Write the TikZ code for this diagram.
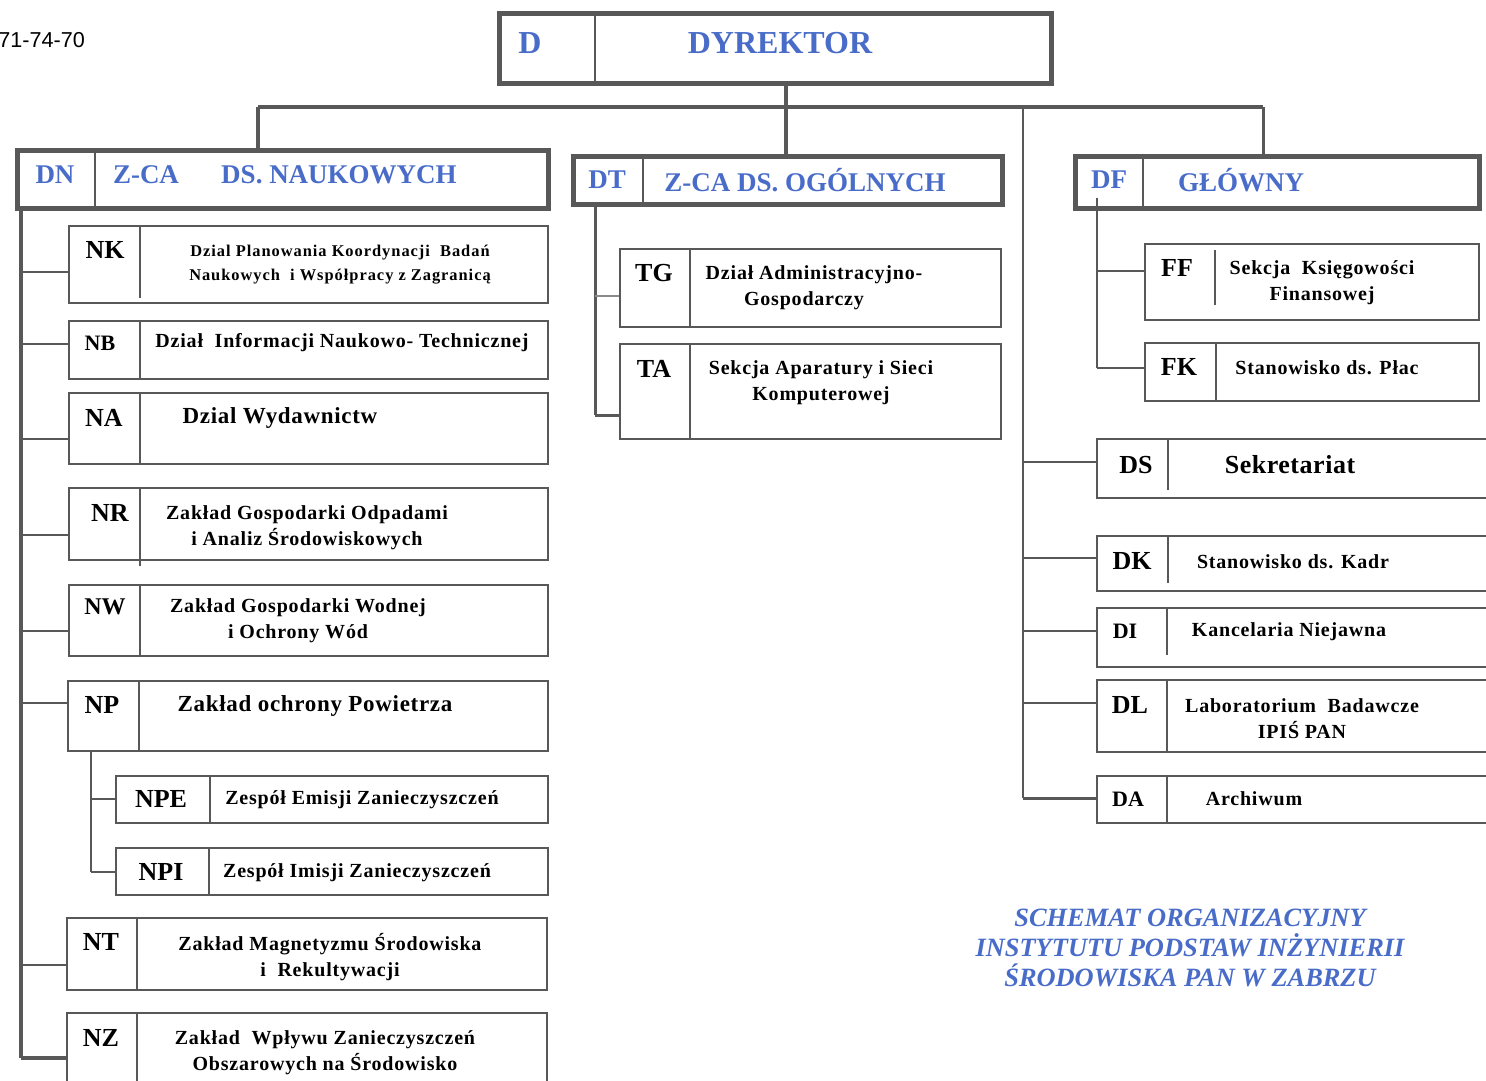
\documentclass[tikz,border=0pt]{standalone}
\usepackage{fontspec}
\setmainfont{Liberation Serif}
\setsansfont{Liberation Sans}
\definecolor{bluetxt}{RGB}{72,108,200}
\definecolor{linegray}{RGB}{88,88,88}
\newcommand{\fsz}[2]{\fontsize{#1}{#2}\selectfont}
\tikzset{
  thickbox/.style={draw=linegray, line width=2.6pt},
  thinbox/.style={draw=linegray, line width=0.9pt},
  spine/.style={draw=linegray, line width=2pt},
  midspine/.style={draw=linegray, line width=1.5pt},
  conn/.style={draw=linegray, line width=1pt},
  bus/.style={draw=linegray, line width=2.4pt},
  hlab/.style={font=\fsz{13.5}{15}\bfseries, text=bluetxt, inner sep=0pt},
  lab/.style={font=\fsz{13}{15}\bfseries, inner sep=0pt},
  slab/.style={font=\fsz{11}{13}\bfseries, inner sep=0pt},
  txt/.style={font=\fsz{10}{13}\bfseries\addfontfeature{LetterSpace=4}, align=center, inner sep=0pt},
  btxt/.style={font=\fsz{11.5}{13}\bfseries\addfontfeature{LetterSpace=3}, align=center, inner sep=0pt},
  smtxt/.style={font=\fsz{8.2}{12}\bfseries\addfontfeature{LetterSpace=6}, align=center, inner sep=0pt},
}
% #1 name, #2 x1, #3 y1, #4 x2, #5 y2, #6 style
\newcommand{\ubox}[6]{%
  \node[#6, anchor=north west, inner sep=0pt, minimum width={(#4-#2)*0.5pt}, minimum height={(#5-#3)*0.5pt}] (#1) at (#2,#3) {};%
}
\begin{document}
\begin{tikzpicture}[x=0.5pt,y=-0.5pt]
\useasboundingbox (0,0) rectangle (1486,1080);
\clip (0,0) rectangle (1486,1080);
\fill[white] (0,0) rectangle (1486,1080);

% phone number fragment
\node[font=\sffamily\fsz{10.8}{12}, anchor=west, inner sep=0pt] (tel) at (-2,40) {71-74-70};

% ---------------- top level ----------------
\ubox{D}{497}{11}{1049}{81}{thickbox}
\draw[thickbox, line width=1.2pt] (595,11) -- (595,81);
\node[hlab, font=\fsz{16}{18}\bfseries] (D-c) at (530,43) {D};
\node[hlab, font=\fsz{16}{18}\bfseries] (D-t) at (780,43) {DYREKTOR};

\ubox{DN}{15}{148}{546}{206}{thickbox}
\draw[linegray, line width=1.2pt] (95,148) -- (95,206);
\node[hlab] (DN-c) at (55,175) {DN};
\node[hlab] (DN-z) at (146,175) {Z-CA};
\node[hlab] (DN-t) at (339,175) {DS. NAUKOWYCH};

\ubox{DT}{571}{154}{1000}{202}{thickbox}
\draw[linegray, line width=1.2pt] (643,154) -- (643,202);
\node[hlab] (DT-c) at (607,180) {DT};
\node[hlab] (DT-t) at (805,180) {Z-CA DS. OGÓLNYCH};

\ubox{DF}{1073}{154}{1477}{206}{thickbox}
\draw[linegray, line width=1.2pt] (1143,154) -- (1143,206);
\node[hlab] (DF-c) at (1109,180) {DF};
\node[hlab] (DF-t) at (1241,180) {GŁÓWNY};

% bus
\coordinate (busL) at (258,107);
\coordinate (busC) at (786,107);
\coordinate (busR) at (1263,107);
\coordinate (busS) at (1023,107);
\draw[bus] (D.south -| busC) -- (busC);
\draw[bus] (busL) -- (busR);
\draw[bus] (busL) -- (busL |- DN.north);
\draw[bus] (busC) -- (busC |- DT.north);
\draw[midspine] (busR) -- (busR |- DF.north);

% ---------------- DN column ----------------
\coordinate (nspine) at (21,206);
\coordinate (nend) at (21,1058);
\draw[spine] (nspine) -- (nend);

\ubox{NK}{68}{225}{547}{302}{thinbox}
\draw[thinbox] (140,225) -- (140,298);
\node[lab] (NK-c) at (105,250) {NK};
\node[smtxt] (NK-t) at (340,265) {Dzial Planowania Koordynacji\ \ Badań\\Naukowych\ \ i Współpracy z Zagranicą};
\coordinate (jNK) at (21,272);
\draw[conn] (jNK) -- (jNK -| NK.west);

\ubox{NB}{68}{320}{547}{378}{thinbox}
\draw[thinbox] (140,320) -- (140,378);
\node[slab] (NB-c) at (100,343) {NB};
\node[txt] (NB-t) at (342,343) {Dział\ \ Informacji Naukowo- Technicznej};
\coordinate (jNB) at (21,344);
\draw[conn] (jNB) -- (jNB -| NB.west);

\ubox{NA}{68}{392}{547}{463}{thinbox}
\draw[thinbox] (140,392) -- (140,463);
\node[lab] (NA-c) at (104,418) {NA};
\node[btxt] (NA-t) at (280,418) {Dzial Wydawnictw};
\coordinate (jNA) at (21,439);
\draw[conn] (jNA) -- (jNA -| NA.west);

\ubox{NR}{68}{487}{547}{559}{thinbox}
\draw[thinbox] (140,487) -- (140,566);
\node[lab] (NR-c) at (110,513) {NR};
\node[txt] (NR-t) at (307,528) {Zakład Gospodarki Odpadami\\i Analiz Środowiskowych};
\coordinate (jNR) at (21,535);
\draw[conn] (jNR) -- (jNR -| NR.west);

\ubox{NW}{68}{584}{547}{655}{thinbox}
\draw[thinbox] (140,584) -- (140,655);
\node[slab, font=\fsz{12}{13}\bfseries] (NW-c) at (105,607) {NW};
\node[txt] (NW-t) at (298,621) {Zakład Gospodarki Wodnej\\i Ochrony Wód};
\coordinate (jNW) at (21,631);
\draw[conn] (jNW) -- (jNW -| NW.west);

\ubox{NP}{67}{680}{547}{750}{thinbox}
\draw[thinbox] (139,680) -- (139,750);
\node[lab] (NP-c) at (102,705) {NP};
\node[btxt] (NP-t) at (315,706) {Zakład ochrony Powietrza};
\coordinate (jNP) at (21,703);
\draw[conn] (jNP) -- (jNP -| NP.west);

\coordinate (pspine) at (91,750);
\coordinate (pend) at (91,872);
\draw[conn] (pspine) -- (pend);

\ubox{NPE}{115}{775}{547}{822}{thinbox}
\draw[thinbox] (210,775) -- (210,822);
\node[lab] (NPE-c) at (161,799) {NPE};
\node[txt] (NPE-t) at (362,800) {Zespół Emisji Zanieczyszczeń};
\coordinate (jNPE) at (91,799);
\draw[conn] (jNPE) -- (jNPE -| NPE.west);

\ubox{NPI}{115}{847}{547}{894}{thinbox}
\draw[thinbox] (209,847) -- (209,894);
\node[lab] (NPI-c) at (161,872) {NPI};
\node[txt] (NPI-t) at (357,873) {Zespół Imisji Zanieczyszczeń};
\draw[conn] (pend) -- (pend -| NPI.west);

\ubox{NT}{66}{917}{546}{989}{thinbox}
\draw[thinbox] (137,917) -- (137,989);
\node[lab] (NT-c) at (101,942) {NT};
\node[txt] (NT-t) at (330,957) {Zakład Magnetyzmu Środowiska\\i\ \ Rekultywacji};
\coordinate (jNT) at (21,965);
\draw[conn] (jNT) -- (jNT -| NT.west);

\ubox{NZ}{66}{1012}{546}{1100}{thinbox}
\draw[thinbox] (137,1012) -- (137,1100);
\node[lab] (NZ-c) at (101,1038) {NZ};
\node[txt] (NZ-t) at (325,1053) {Zakład\ \ Wpływu Zanieczyszczeń\\Obszarowych na Środowisko};
\draw[spine] (nend) -- (nend -| NZ.west);

% ---------------- DT column ----------------
\coordinate (tspine) at (595,202);
\coordinate (tend) at (595,415);
\draw[midspine] (tspine) -- (tend);

\ubox{TG}{619}{248}{1000}{326}{thinbox}
\draw[thinbox] (690,248) -- (690,326);
\node[lab] (TG-c) at (654,273) {TG};
\node[txt] (TG-t) at (814,288) {Dział Administracyjno-\\\hspace*{-1em}Gospodarczy};
\coordinate (jTG) at (595,296);
\draw[conn, draw=linegray!70] (jTG) -- (jTG -| TG.west);

\ubox{TA}{619}{343}{1000}{438}{thinbox}
\draw[thinbox] (690,343) -- (690,438);
\node[lab] (TA-c) at (654,369) {TA};
\node[txt] (TA-t) at (821,383) {Sekcja Aparatury i Sieci\\Komputerowej};
\draw[midspine] (tend) -- (tend -| TA.west);

% ---------------- DF column ----------------
\coordinate (fspine) at (1097,198);
\coordinate (fend) at (1097,368);
\draw[conn] (fspine) -- (fend);

\ubox{FF}{1144}{243}{1478}{319}{thinbox}
\draw[thinbox] (1215,250) -- (1215,305);
\node[lab] (FF-c) at (1177,268) {FF};
\node[txt] (FF-t) at (1322,283) {Sekcja\ \ Księgowości\\Finansowej};
\coordinate (jFF) at (1097,271);
\draw[conn] (jFF) -- (jFF -| FF.west);

\ubox{FK}{1144}{342}{1478}{400}{thinbox}
\draw[thinbox] (1216,342) -- (1216,400);
\node[lab] (FK-c) at (1179,367) {FK};
\node[txt] (FK-t) at (1327,368) {Stanowisko ds. Płac};
\draw[conn] (fend) -- (fend -| FK.west);

% ---------------- staff column ----------------
\coordinate (send) at (1023,798);
\draw[conn, line width=1.3pt] (busS) -- (send);

\ubox{DS}{1096}{438}{1500}{497}{thinbox}
\draw[thinbox] (1168,440) -- (1168,490);
\node[lab] (DS-c) at (1136,465) {DS};
\node[lab, font=\fsz{13}{15}\bfseries\addfontfeature{LetterSpace=2}] (DS-t) at (1290,465) {Sekretariat};
\coordinate (jDS) at (1023,462);
\draw[conn] (jDS) -- (jDS -| DS.west);

\ubox{DK}{1096}{535}{1500}{590}{thinbox}
\draw[thinbox] (1168,537) -- (1168,583);
\node[lab] (DK-c) at (1132,561) {DK};
\node[txt] (DK-t) at (1293,562) {Stanowisko ds. Kadr};
\coordinate (jDK) at (1023,558);
\draw[conn] (jDK) -- (jDK -| DK.west);

\ubox{DI}{1096}{607}{1500}{666}{thinbox}
\draw[thinbox] (1167,607) -- (1167,655);
\node[slab] (DI-c) at (1125,631) {DI};
\node[txt] (DI-t) at (1289,632) {Kancelaria Niejawna};
\coordinate (jDI) at (1023,631);
\draw[conn] (jDI) -- (jDI -| DI.west);

\ubox{DL}{1096}{679}{1500}{751}{thinbox}
\draw[thinbox] (1167,679) -- (1167,751);
\node[lab] (DL-c) at (1130,705) {DL};
\node[txt] (DL-t) at (1302,719) {Laboratorium\ \ Badawcze\\IPIŚ PAN};
\coordinate (jDL) at (1023,703);
\draw[conn] (jDL) -- (jDL -| DL.west);

\ubox{DA}{1096}{775}{1500}{822}{thinbox}
\draw[thinbox] (1167,775) -- (1167,822);
\node[slab] (DA-c) at (1128,799) {DA};
\node[txt] (DA-t) at (1254,799) {Archiwum};
\draw[conn, line width=1.5pt] (send) -- (send -| DA.west);

% ---------------- title ----------------
\node[text=bluetxt, font=\fsz{13.2}{15}\bfseries\itshape, align=center, inner sep=0pt] (title) at (1190,948)
  {SCHEMAT ORGANIZACYJNY\\INSTYTUTU PODSTAW INŻYNIERII\\ŚRODOWISKA PAN W ZABRZU};
\end{tikzpicture}
\end{document}
